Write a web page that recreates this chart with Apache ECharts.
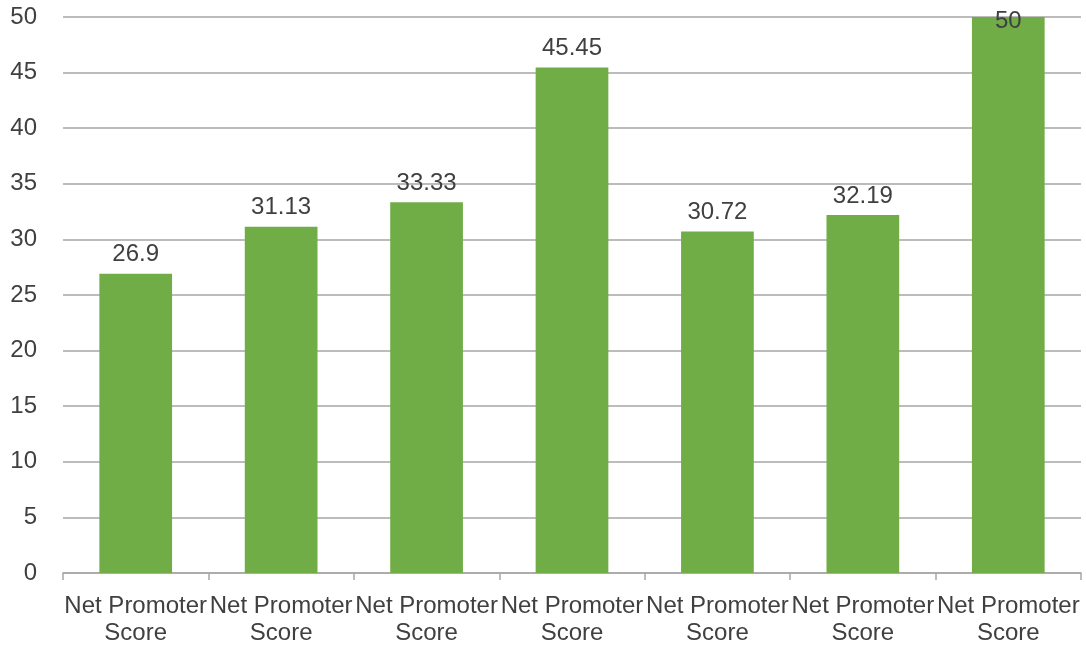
<!DOCTYPE html>
<html>
<head>
    <meta charset="utf-8">
    <title>Net Promoter Score</title>
    <style>
        html, body {
            margin: 0;
            padding: 0;
            background-color: #fff;
        }
        #chart {
            width: 1086px;
            height: 648px;
        }
    </style>
</head>
<body>
    <div id="chart"></div>
<script type="text/javascript" src="https://cdn.jsdelivr.net/npm/echarts@6/dist/echarts.min.js"></script>
<script type="text/javascript">
    var categories = ['Net Promoter\nScore', 'Net Promoter\nScore', 'Net Promoter\nScore', 'Net Promoter\nScore',
        'Net Promoter\nScore', 'Net Promoter\nScore', 'Net Promoter\nScore'];
    var scores = [26.9, 31.13, 33.33, 45.45, 30.72, 32.19, 50];
    var yTicks = { min: 0, max: 50, interval: 5 };

    var myChart = echarts.init(document.getElementById('chart'));
    var font = 'Liberation Sans, Arial, sans-serif';

    // the top bar's label sits over the bar top, like in the original
    var barData = scores.map(function (v) {
        if (v >= yTicks.max) {
            return { value: v, label: { offset: [0, 23] } };
        }
        return v;
    });

    var option = {
        animation: false,
        grid: {
            left: 63,
            right: 5,
            top: 17,
            bottom: 75
        },
        xAxis: {
            type: 'category',
            data: categories,
            axisLine: { lineStyle: { color: '#a6a6a6', width: 1.5 } },
            axisTick: { show: true, length: 7, lineStyle: { color: '#a6a6a6', width: 1.5 } },
            axisLabel: {
                interval: 0,
                color: '#404040',
                fontSize: 24,
                fontFamily: font,
                lineHeight: 27,
                margin: 20
            }
        },
        yAxis: {
            type: 'value',
            min: yTicks.min,
            max: yTicks.max,
            interval: yTicks.interval,
            axisLine: { show: false },
            axisTick: { show: false },
            splitLine: { lineStyle: { color: '#a6a6a6', width: 1.5 } },
            axisLabel: {
                color: '#404040',
                fontSize: 24,
                fontFamily: font,
                margin: 26
            }
        },
        series: [
            {
                type: 'bar',
                data: barData,
                barWidth: '50%',
                itemStyle: { color: '#70ad47' },
                label: {
                    show: true,
                    position: 'top',
                    distance: 7,
                    color: '#404040',
                    fontSize: 24,
                    fontFamily: font
                }
            }
        ]
    };

    myChart.setOption(option);
</script>
</body>
</html>
